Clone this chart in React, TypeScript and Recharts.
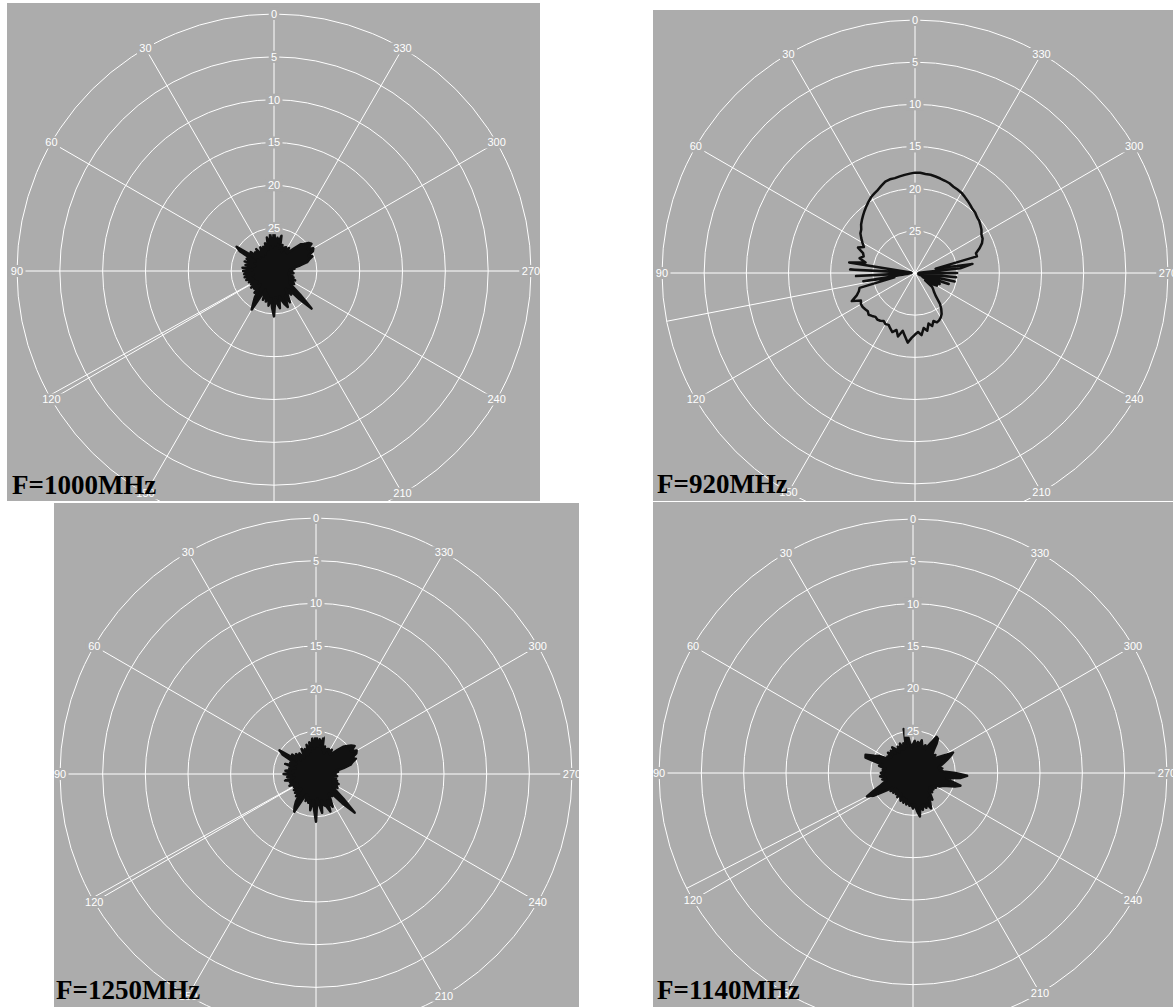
import React from 'react'
import { RadarChart, PolarGrid, PolarAngleAxis, PolarRadiusAxis, Radar } from 'recharts'

// measurement angles (deg), 3 deg step
const ANGLES = [
  0, 3, 6, 9, 12, 15, 18, 21, 24, 27,
  30, 33, 36, 39, 42, 45, 48, 51, 54, 57,
  60, 63, 66, 69, 72, 75, 78, 81, 84, 87,
  90, 93, 96, 99, 102, 105, 108, 111, 114, 117,
  120, 123, 126, 129, 132, 135, 138, 141, 144, 147,
  150, 153, 156, 159, 162, 165, 168, 171, 174, 177,
  180, 183, 186, 189, 192, 195, 198, 201, 204, 207,
  210, 213, 216, 219, 222, 225, 228, 231, 234, 237,
  240, 243, 246, 249, 252, 255, 258, 261, 264, 267,
  270, 273, 276, 279, 282, 285, 288, 291, 294, 297,
  300, 303, 306, 309, 312, 315, 318, 321, 324, 327,
  330, 333, 336, 339, 342, 345, 348, 351, 354, 357,
]

// received level, dB
const F1000 = [
  -24.8, -27.2, -25.6, -26.9, -26.0, -27.4, -26.6, -27.5, -26.9, -27.8,
  -26.8, -27.3, -27.9, -26.7, -27.6, -26.9, -27.8, -26.5, -27.4, -24.8,
  -25.4, -27.6, -26.5, -27.3, -26.4, -27.7, -26.6, -27.2, -26.3, -27.5,
  -26.4, -27.0, -26.5, -27.6, -26.5, -27.2, -26.6, -27.4, -26.8, -27.5,
  -26.9, -27.7, -26.7, -27.4, -26.9, -27.8, -26.6, -27.1, -26.2, -25.6,
  -24.8, -26.9, -27.6, -26.4, -27.3, -26.3, -27.0, -25.9, -26.8, -25.7,
  -24.7, -26.9, -26.1, -25.6, -27.0, -26.4, -25.9, -25.5, -26.8, -25.9,
  -26.8, -27.5, -26.6, -27.2, -25.6, -23.8, -25.9, -27.4, -27.8, -27.2,
  -27.4, -28.0, -27.3, -28.1, -27.6, -28.2, -27.8, -28.3, -27.7, -28.1,
  -27.9, -28.2, -27.6, -27.8, -26.9, -26.0, -25.7, -25.2, -25.6, -24.9,
  -24.7, -25.3, -24.6, -24.8, -25.3, -25.6, -26.4, -27.0, -27.4, -26.8,
  -27.3, -26.9, -27.0, -27.6, -26.8, -27.3, -25.8, -26.6, -26.1, -27.0,
]

const F920 = [
  -18.1, -18.2, -18.3, -18.4, -18.5, -18.5, -18.6, -18.9, -19.2, -19.4,
  -19.6, -19.9, -20.2, -20.5, -20.8, -21.1, -21.4, -21.8, -22.0, -22.4,
  -22.8, -23.2, -22.6, -23.4, -23.6, -23.2, -24.0, -22.1, -29.5, -22.3,
  -29.6, -23.0, -29.4, -23.8, -27.5, -23.2, -23.0, -22.6, -21.8, -22.8,
  -22.6, -22.6, -22.7, -22.8, -22.6, -22.8, -23.0, -22.9, -23.0, -23.2,
  -23.0, -23.1, -22.8, -22.5, -22.9, -22.2, -23.0, -22.4, -21.7, -22.3,
  -22.7, -23.0, -22.6, -23.4, -23.0, -23.8, -23.4, -23.9, -23.6, -23.7,
  -23.9, -24.2, -24.7, -25.3, -26.3, -26.8, -27.1, -27.4, -28.5, -27.6,
  -27.0, -29.0, -26.8, -29.5, -25.8, -29.6, -25.2, -29.5, -25.1, -29.6,
  -25.0, -29.5, -24.6, -23.1, -27.5, -22.4, -22.4, -21.8, -21.3, -21.0,
  -20.9, -20.6, -20.4, -20.2, -20.1, -19.9, -19.8, -19.6, -19.4, -19.2,
  -19.0, -18.9, -18.8, -18.6, -18.5, -18.4, -18.3, -18.2, -18.2, -18.1,
]

const F1250 = [
  -24.5, -27.0, -25.8, -26.7, -26.2, -27.3, -26.4, -27.6, -26.8, -27.5,
  -26.6, -27.4, -27.7, -26.9, -27.5, -26.7, -27.6, -26.4, -27.2, -24.9,
  -25.5, -27.4, -26.7, -27.1, -26.2, -27.5, -26.8, -27.0, -26.4, -27.3,
  -26.2, -27.1, -26.6, -27.4, -26.3, -27.0, -26.8, -27.3, -26.6, -27.6,
  -27.0, -27.5, -26.8, -27.2, -26.7, -27.6, -26.5, -26.9, -26.0, -25.4,
  -24.9, -27.0, -27.4, -26.6, -27.1, -26.5, -26.8, -25.7, -26.9, -25.8,
  -24.4, -27.1, -26.3, -25.4, -26.8, -26.2, -26.0, -25.3, -26.6, -25.7,
  -26.6, -27.3, -26.8, -27.0, -25.4, -23.6, -25.7, -27.2, -27.6, -27.0,
  -27.2, -27.8, -27.1, -27.9, -27.4, -28.0, -27.6, -28.1, -27.5, -27.9,
  -27.7, -28.0, -27.4, -27.6, -26.7, -25.8, -25.5, -25.0, -25.4, -24.7,
  -24.5, -25.1, -24.4, -24.7, -25.1, -25.5, -26.2, -26.8, -27.2, -26.6,
  -27.1, -26.7, -26.8, -27.4, -26.6, -27.1, -25.6, -26.4, -25.9, -26.8,
]

const F1140 = [
  -26.6, -27.0, -26.4, -24.9, -24.7, -26.8, -26.3, -27.0, -26.2, -26.9,
  -26.4, -27.1, -26.5, -26.1, -26.9, -26.3, -26.7, -26.2, -26.8, -26.4,
  -26.6, -25.6, -25.0, -24.0, -24.1, -26.3, -25.9, -26.7, -26.4, -26.6,
  -26.2, -26.5, -26.1, -26.7, -26.3, -26.8, -26.4, -25.9, -25.0, -23.9,
  -24.6, -26.2, -27.0, -26.6, -27.2, -26.7, -27.3, -26.8, -27.1, -26.6,
  -27.2, -26.7, -26.4, -26.9, -26.3, -26.8, -26.2, -26.5, -26.1, -26.3,
  -25.8, -26.3, -25.5, -24.8, -25.9, -25.5, -26.1, -25.6, -26.0, -25.3,
  -25.9, -26.5, -26.1, -26.7, -27.2, -26.8, -27.4, -26.9, -27.3, -26.8,
  -27.1, -26.5, -26.2, -25.7, -24.8, -24.2, -25.4, -26.0, -24.4, -23.6,
  -25.0, -26.4, -26.8, -26.5, -26.9, -26.6, -26.2, -25.7, -25.2, -24.7,
  -25.9, -26.7, -27.0, -26.6, -27.1, -26.7, -26.3, -25.6, -25.0, -24.9,
  -26.1, -26.8, -26.4, -26.9, -26.5, -26.0, -26.7, -26.3, -26.8, -26.2,
]

const ANGLE_TICKS = [0, 30, 60, 90, 120, 150, 180, 210, 240, 270, 300, 330]
const DB_TICKS = [-30, -25, -20, -15, -10, -5, 0]
const TITLES = ['F=1000MHz', 'F=920MHz', 'F=1250MHz', 'F=1140MHz']
// angle of the white cursor line of the measuring program
const CURSORS = [119, 101, 119, 117]

const GRAY = '#acacac'
const INK = '#111'
const LABEL_FONT = '"Liberation Sans", Arial, sans-serif'

const toRows = (values: number[]) => ANGLES.map((angle, i) => ({ angle, level: values[i] }))

// panel boxes on the page, polar centre inside the box, title baseline
const LAYOUT = [
  { left: 7, top: 3, w: 533, h: 498, cx: 267, cy: 268, r: 257, tx: 12, ty: 495 },
  { left: 653, top: 10, w: 520, h: 491, cx: 262, cy: 263, r: 253, tx: 657, ty: 494 },
  { left: 54, top: 503, w: 525, h: 504, cx: 262, cy: 271, r: 256, tx: 56, ty: 1000 },
  { left: 653, top: 502, w: 520, h: 505, cx: 260, cy: 271, r: 254, tx: 657, ty: 1000 },
]

function boxedLabel(x: number, y: number, text: string) {
  const w = text.length * 6.5 + 4
  return (
    <g>
      <rect x={x - w / 2} y={y - 6} width={w} height={12} fill={GRAY} />
      <text x={x} y={y} dy="0.35em" textAnchor="middle" fill="#fff" fontSize={11} fontFamily={LABEL_FONT}>
        {text}
      </text>
    </g>
  )
}

function AngleTick(props: any) {
  const { x, y, payload } = props
  return boxedLabel(x, y, String(payload.value))
}

function DbTick(props: any) {
  const { x, y, payload } = props
  // centre (-30) has no label, 0 is printed by the angle axis
  if (payload.value === -30 || payload.value === 0) return <g />
  return boxedLabel(x, y, String(Math.abs(payload.value)))
}

function PolarPanel({ idx, values, filled }: { idx: number; values: number[]; filled: boolean }) {
  const p = LAYOUT[idx]
  return (
    <div
      style={{
        position: 'absolute',
        left: p.left,
        top: p.top,
        width: p.w,
        height: p.h,
        background: GRAY,
        overflow: 'hidden',
      }}
    >
      <RadarChart
        width={p.w}
        height={p.h}
        data={toRows(values)}
        cx={p.cx}
        cy={p.cy}
        outerRadius={p.r}
        startAngle={90}
        endAngle={450}
        margin={{ top: 0, right: 0, bottom: 0, left: 0 }}
      >
        <PolarGrid gridType="circle" stroke="#fff" strokeWidth={1} />
        <PolarGrid gridType="circle" polarAngles={[90 + CURSORS[idx]]} polarRadius={[]} stroke="#fff" strokeWidth={1} />
        <PolarAngleAxis
          dataKey="angle"
          type="number"
          domain={[0, 360]}
          ticks={ANGLE_TICKS}
          tick={<AngleTick />}
          tickLine={false}
          axisLine={false}
          tickSize={0.01}
        />
        <PolarRadiusAxis
          angle={90}
          type="number"
          domain={[-30, 0]}
          ticks={DB_TICKS}
          tick={<DbTick />}
          axisLine={false}
          tickLine={false}
        />
        <Radar
          dataKey="level"
          stroke={INK}
          strokeWidth={2.5}
          strokeLinejoin="round"
          fill={filled ? INK : 'none'}
          fillOpacity={filled ? 1 : 0}
          dot={false}
          isAnimationActive={false}
        />
      </RadarChart>
    </div>
  )
}

export default function App() {
  return (
    <div style={{ position: 'absolute', left: 0, top: 0, width: 1173, height: 1007, background: '#fff', overflow: 'hidden' }}>
      <PolarPanel idx={0} values={F1000} filled />
      <PolarPanel idx={1} values={F920} filled={false} />
      <PolarPanel idx={2} values={F1250} filled />
      <PolarPanel idx={3} values={F1140} filled />
      {TITLES.map((t, i) => (
        <div
          key={t}
          style={{
            position: 'absolute',
            left: LAYOUT[i].tx,
            top: LAYOUT[i].ty - 23,
            fontFamily: '"Liberation Serif", "Times New Roman", serif',
            fontWeight: 'bold',
            fontSize: 27,
            lineHeight: '27px',
            color: '#000',
            whiteSpace: 'nowrap',
          }}
        >
          {t}
        </div>
      ))}
    </div>
  )
}
